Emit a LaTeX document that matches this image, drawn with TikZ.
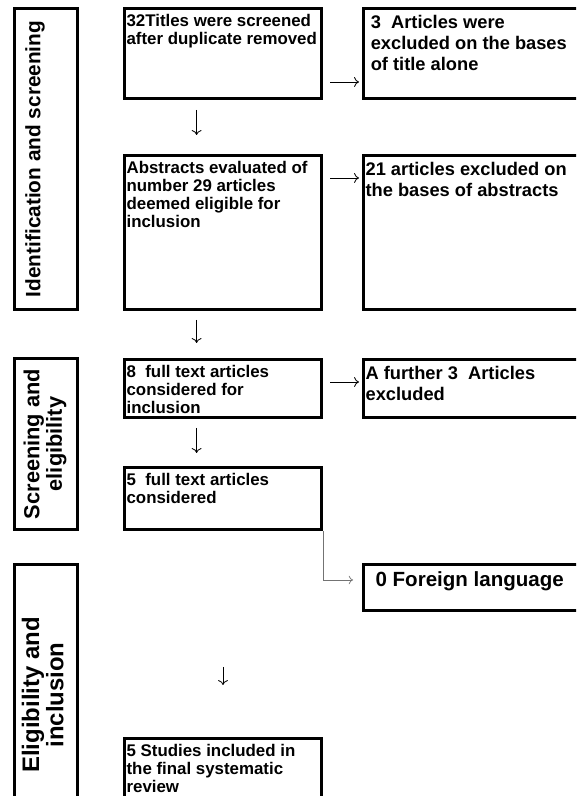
\documentclass[tikz,border=0pt]{standalone}
\usepackage{graphicx}
\usepackage{fontspec}
\setmainfont{Liberation Sans}
\usepackage{tikz}
\usetikzlibrary{arrows.meta}
% Syntax: \boxtxt[left pad]{width}{height}{text}, text hangs from the top of the box
\newcommand{\boxtxt}[4][0.05cm]{\parbox[c][#3][t]{#2}{\raggedright\leftskip=#1\rule{0pt}{\boxbase}#4}}
\newcommand{\boxbase}{0.46cm}
\tikzset{
	stepbox/.style={draw, line width=0.08cm, inner sep=0pt, outer sep=0.04cm, anchor=north west},
	leftcol/.style={stepbox, font=\fontsize{12}{12.8}\selectfont\bfseries},
	rightcol/.style={stepbox, font=\fontsize{13}{14.9}\selectfont\bfseries\renewcommand{\boxbase}{0.51cm}},
	phasebox/.style={stepbox, minimum width=1.57cm, font=\bfseries},
	flow/.style={->, >={To[length=3.5pt,width=7pt]}, line width=0.6pt},
	elbow/.style={->, >={To[length=3pt,width=6pt]}, line width=0.5pt, black!55},
}

\begin{document}
\begin{tikzpicture}
	%page
	\fill[white] (0,0) rectangle (14.4,19.9);
	\useasboundingbox (0,0) rectangle (14.4,19.9);
	\clip (0,0) rectangle (14.4,19.9);
	
	%phase boxes
	\node[phasebox, minimum height=7.52cm] (idscr) at (0.325,19.725) {\hspace*{-0.55cm}\rotatebox{90}{\fontsize{14.8}{16}\selectfont Identification and screening}};
	\node[phasebox, minimum height=4.27cm] (screl) at (0.325,10.975) {\rotatebox{90}{\fontsize{15.5}{15.6}\selectfont\begin{tabular}{@{}c@{}}Screening and\\eligibility\end{tabular}}};
	\node[phasebox, minimum height=6.52cm] (elinc) at (0.325,5.825) {\rotatebox{90}{\fontsize{17}{16.4}\selectfont\begin{tabular}{@{}c@{}}Eligibility and\\inclusion\end{tabular}}};
	
	%main column
	\node[leftcol] (titles)   at (3.075,19.725) {\boxtxt{4.92cm}{2.245cm}{32Titles were screened\\after duplicate removed}};
	\node[leftcol] (abstr)    at (3.075,16.05)  {\boxtxt{4.92cm}{3.845cm}{Abstracts evaluated of\\number 29 articles\\deemed eligible for\\inclusion}};
	\node[leftcol] (fulltxt)  at (3.075,10.95)  {\boxtxt{4.92cm}{1.445cm}{8~~full text articles\\considered for\\inclusion}};
	\node[leftcol] (fullcons) at (3.075,8.25)   {\boxtxt{4.92cm}{1.545cm}{5~~full text articles\\considered}};
	\node[leftcol] (included) at (3.075,1.475)  {\boxtxt{4.92cm}{2.0cm}{5 Studies included in\\the final systematic\\review}};
	
	%exclusion column
	\node[rightcol] (extitle) at (9.05,19.725) {\boxtxt[0.18cm]{6cm}{2.245cm}{3~~Articles were\\excluded on the bases\\of title alone}};
	\node[rightcol] (exabstr) at (9.05,16.05)  {\boxtxt{6cm}{3.845cm}{21 articles excluded on\\the bases of abstracts}};
	\node[rightcol] (exfull)  at (9.05,10.95)  {\boxtxt{6cm}{1.445cm}{A further 3~~Articles\\excluded}};
	\node[rightcol, font=\fontsize{14.6}{16}\selectfont\bfseries\renewcommand{\boxbase}{0.55cm}] (foreign) at (9.05,5.825) {\boxtxt[0.3cm]{6cm}{1.145cm}{0 Foreign language}};
	
	%arrows to exclusions
	\draw[flow, shorten <=0.175cm, shorten >=0.075cm] ([yshift=-1.875cm]titles.north east) -- ([yshift=-1.875cm]extitle.north west);
	\draw[flow, shorten <=0.175cm, shorten >=0.075cm] ([yshift=-0.6cm]abstr.north east) -- ([yshift=-0.6cm]exabstr.north west);
	\draw[flow, shorten <=0.175cm, shorten >=0.075cm] ([yshift=-0.6cm]fulltxt.north east) -- ([yshift=-0.6cm]exfull.north west);
	\draw[elbow, shorten >=0.225cm] (fullcons.south east) |- ([yshift=-0.425cm]foreign.north west);
	
	%arrows down
	\draw[flow, shorten <=0.25cm, shorten >=0.475cm] ([xshift=-0.66cm]titles.south) -- ([xshift=-0.66cm]abstr.north);
	\draw[flow, shorten <=0.225cm, shorten >=0.375cm] ([xshift=-0.66cm]abstr.south) -- ([xshift=-0.66cm]fulltxt.north);
	\draw[flow, shorten <=0.225cm, shorten >=0.325cm] ([xshift=-0.66cm]fulltxt.south) -- ([xshift=-0.66cm]fullcons.north);
	\draw[flow, shorten <=3.4cm, shorten >=1.3cm] (fullcons.south) -- (included.north);
	
\end{tikzpicture}
\end{document}
